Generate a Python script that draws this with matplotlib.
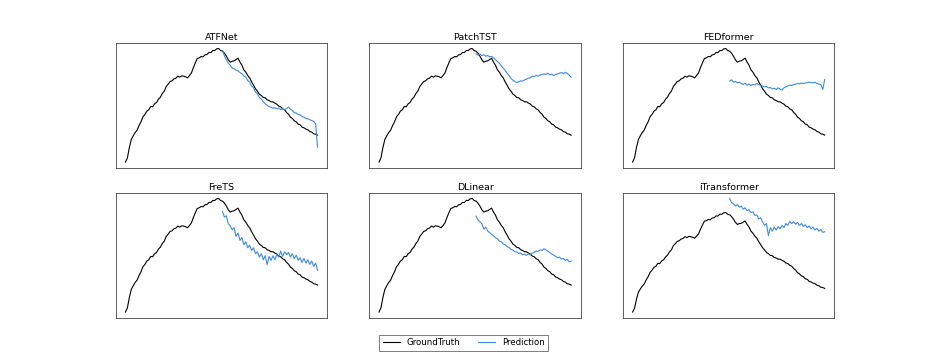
import numpy as np
import matplotlib.pyplot as plt

models = ["ATFNet", "PatchTST", "FEDformer", "FreTS", "DLinear", "iTransformer"]

ground_truth = [3, 16, 47, 71, 82, 92, 99, 113, 124, 139,
                146, 156, 160, 170, 169, 178, 182, 192, 198, 209,
                216, 230, 237, 245, 247, 253, 255, 261, 258, 262,
                261, 259, 256, 263, 271, 287, 301, 314, 316, 320,
                319, 325, 326, 332, 332, 338, 338, 343, 344, 338,
                336, 330, 321, 310, 303, 306, 307, 311, 315, 303,
                294, 280, 273, 263, 256, 244, 234, 223, 216, 207,
                203, 197, 196, 190, 188, 184, 184, 180, 177, 171,
                169, 163, 160, 152, 147, 138, 134, 127, 124, 117,
                115, 108, 106, 102, 100, 95, 93, 88, 87, 84]

pred_atfnet = [338, 322, 310, 300, 294, 285, 283, 279, 277, 272,
               268, 262, 258, 248, 243, 232, 226, 214, 208, 197,
               192, 184, 178, 174, 169, 168, 165, 166, 163, 165,
               161, 163, 160, 164, 168, 162, 158, 152, 150, 146,
               145, 140, 138, 134, 133, 130, 128, 125, 118, 48]

pred_patchtst = [328, 324, 327, 323, 325, 321, 323, 319, 320, 316,
                 311, 305, 300, 292, 285, 279, 270, 263, 254, 249,
                 245, 242, 244, 247, 246, 250, 252, 255, 256, 261,
                 260, 263, 261, 265, 266, 268, 266, 270, 265, 267,
                 263, 266, 268, 270, 272, 268, 273, 269, 264, 258]

pred_fedformer = [246, 250, 243, 245, 241, 243, 239, 236, 240, 234,
                  237, 233, 236, 235, 239, 236, 233, 231, 229, 230,
                  226, 227, 223, 225, 221, 226, 222, 219, 226, 229,
                  232, 234, 233, 236, 237, 239, 238, 240, 239, 241,
                  241, 243, 242, 241, 243, 239, 237, 236, 221, 251]

pred_frets = [305, 288, 292, 268, 262, 250, 256, 230, 240, 218,
              226, 205, 214, 196, 204, 188, 196, 178, 184, 168,
              178, 160, 172, 145, 170, 158, 172, 160, 176, 168,
              186, 170, 184, 175, 182, 168, 178, 163, 174, 158,
              166, 152, 164, 150, 160, 146, 156, 140, 150, 128]

pred_dlinear = [291, 280, 274, 268, 252, 258, 246, 242, 236, 232,
                226, 223, 216, 214, 207, 206, 199, 197, 191, 189,
                184, 183, 179, 180, 175, 177, 173, 178, 174, 180,
                182, 186, 185, 190, 188, 193, 190, 186, 182, 177,
                174, 170, 166, 168, 162, 164, 158, 161, 154, 156]

pred_itransformer = [392, 378, 374, 366, 371, 362, 366, 355, 360, 350,
                     354, 344, 346, 334, 336, 322, 326, 312, 300, 306,
                     265, 292, 280, 294, 284, 296, 288, 300, 292, 306,
                     300, 314, 306, 312, 304, 310, 300, 306, 296, 302,
                     292, 298, 288, 294, 284, 290, 280, 286, 276, 278]

predictions = [pred_atfnet, pred_patchtst, pred_fedformer,
               pred_frets, pred_dlinear, pred_itransformer]

x_gt = np.arange(len(ground_truth))
x_pred = np.arange(len(ground_truth) - len(pred_atfnet), len(ground_truth))

fig, axes = plt.subplots(2, 3, figsize=(9.27, 3.57), dpi=100)

for ax, name, pred in zip(axes.flat, models, predictions):
    gt_line, = ax.plot(x_gt, ground_truth, color="black", linewidth=0.8)
    pred_line, = ax.plot(x_pred, pred, color="#3d8ae0", linewidth=0.8)
    ax.set_title(name, fontsize=6.8, pad=2)
    ax.set_xticks([])
    ax.set_yticks([])
    for s in ax.spines.values():
        s.set_linewidth(0.6)
        s.set_color("#444444")

leg = fig.legend([gt_line, pred_line], ["GroundTruth", "Prediction"],
                 loc="lower center", ncol=2, fontsize=6.2,
                 bbox_to_anchor=(0.5, 0.005), fancybox=False)
leg.get_frame().set_linewidth(0.6)
leg.get_frame().set_edgecolor("#444444")

plt.savefig("out.png", dpi=100)
